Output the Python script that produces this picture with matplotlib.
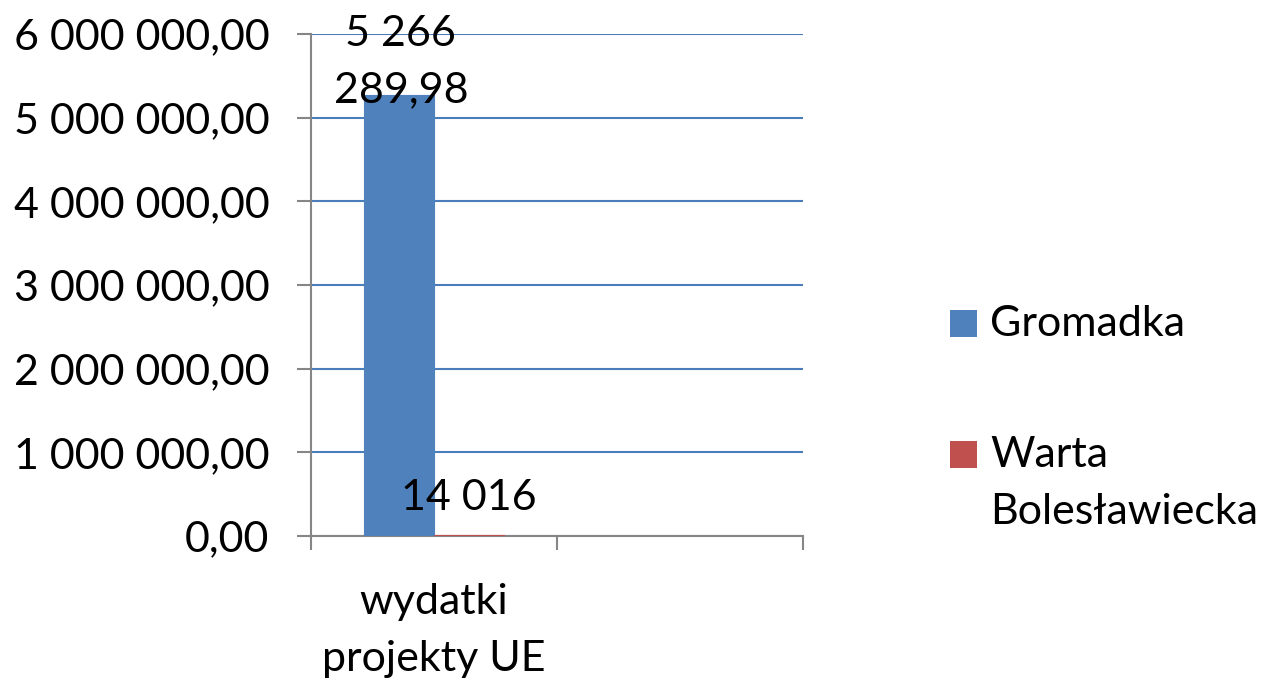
import numpy as np
import matplotlib
matplotlib.use("Agg")
import matplotlib.pyplot as plt
from matplotlib.patches import Rectangle
from matplotlib.ticker import FuncFormatter

categories = ["wydatki\nprojekty UE", ""]
series_names = ["Gromadka", "Warta\nBolesławiecka"]
gromadka = [5266289.98, np.nan]
warta = [14016.0, np.nan]
label_gromadka = "5 266\n289,98"
label_warta = "14 016"
colors = ["#4F81BD", "#C0504D"]

plt.rcParams['font.family'] = ['Lato', 'DejaVu Sans']
fs = 31
axcol = "#868686"
W, H = 1270, 681

def pl_fmt(v, pos=None):
    s = "{:,.2f}".format(v).replace(",", " ").replace(".", ",")
    return s

fig = plt.figure(figsize=(12.7, 6.81), dpi=100)
ax = fig.add_axes([311/W, 1-536/H, (803-311)/W, (536-34)/H])

x = np.arange(len(categories))
w = 0.286
b1 = ax.bar(x - w/2, gromadka, w, color=colors[0], edgecolor=colors[0], linewidth=0.8, zorder=3)
b2 = ax.bar(x + w/2, warta, w, color=colors[1], edgecolor=colors[1], linewidth=0.8, zorder=3)

ax.set_xlim(-0.5, len(categories) - 0.5)
ax.set_ylim(0, 6000000)
ax.set_yticks(np.arange(0, 6000001, 1000000))
ax.yaxis.set_major_formatter(FuncFormatter(pl_fmt))
ax.yaxis.grid(True, color="#4A7EBB", linewidth=1.5, zorder=0)
ax.set_axisbelow(True)

ax.set_xticks(np.arange(-0.5, len(categories), 1.0))
ax.set_xticklabels([])
ax.set_xticks(x, minor=True)
ax.set_xticklabels(categories, minor=True, fontsize=fs, linespacing=1.6)
ax.tick_params(axis='x', which='minor', length=0, pad=34)
ax.tick_params(axis='x', which='major', length=10, width=1.5, color=axcol, direction='out')
ax.tick_params(axis='y', length=10, width=1.5, color=axcol, direction='out', labelsize=fs, pad=20)

for sp in ['top', 'right']:
    ax.spines[sp].set_visible(False)
for sp in ['left', 'bottom']:
    ax.spines[sp].set_color(axcol)
    ax.spines[sp].set_linewidth(1.5)
    ax.spines[sp].set_zorder(2)

# data labels
ax.annotate(label_gromadka, (b1[0].get_x() + w/2, gromadka[0]), xytext=(2, -14),
            textcoords='offset pixels', ha='center', va='bottom', fontsize=fs,
            linespacing=1.6, zorder=5)
ax.annotate(label_warta, (b2[0].get_x() + w/2, warta[0]), xytext=(0, 25),
            textcoords='offset pixels', ha='center', va='baseline', fontsize=fs, zorder=5)

# legend (square next to first line of the label, like excel)
leg_x = 950
sq_bottom = [337, 468]
txt_top = [305, 436]
for c, name, yb, yt in zip(colors, series_names, sq_bottom, txt_top):
    fig.add_artist(Rectangle((leg_x/W, 1-yb/H), 27/W, 27/H, transform=fig.transFigure,
                             facecolor=c, edgecolor='none'))
    fig.text((leg_x+40)/W, 1-yt/H, name, fontsize=fs, ha='left', va='top',
             linespacing=1.6)

fig.savefig("out.png", dpi=100)
